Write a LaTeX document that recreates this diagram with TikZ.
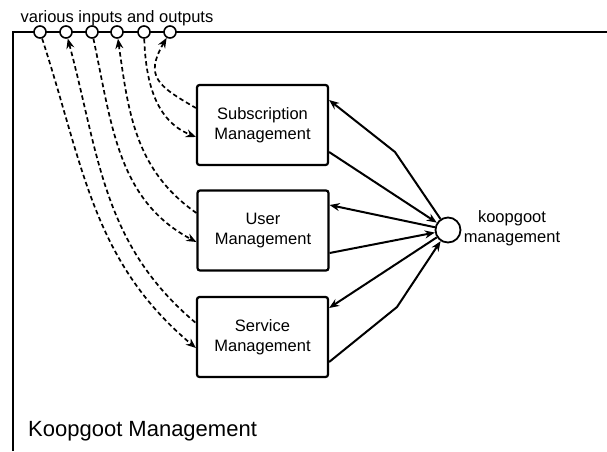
\documentclass[tikz,border=0pt]{standalone}
\usepackage{fontspec}
\setmainfont{Liberation Sans}
\usetikzlibrary{arrows.meta}
\begin{document}
\begin{tikzpicture}[x=1pt,y=-1pt,
  mgmt/.style={draw, line width=2.2pt, rounded corners=2.5pt, minimum width=131pt,
    minimum height=80pt, align=center, inner sep=0pt, font=\fontsize{16.5}{20}\selectfont},
  port/.style={circle, draw, fill=white, line width=1.6pt, minimum size=12pt, inner sep=0pt},
  hub/.style={circle, draw, fill=white, line width=1.8pt, minimum size=25pt, inner sep=0pt},
  lbl/.style={inner sep=0pt, font=\fontsize{16.5}{20}\selectfont, align=center},
  tip/.tip={Stealth[length=10pt,width=8pt]},
  io/.style={line width=1.7pt, dash pattern=on 4.5pt off 3pt},
  ctl/.style={line width=2pt},
]
\useasboundingbox (0,0) rectangle (607,451);

% outer frame: top rail and left edge
\draw[line width=2pt] (13,451) -- (13,32) -- (607,32);

% input/output ports on the rail
\foreach \i/\x in {1/40,2/66,3/92,4/117,5/144,6/170}
  \node[port] (p\i) at (\x,32) {};

\node[lbl, anchor=base] (title) at (117,22) {various inputs and outputs};

% management blocks
\node[mgmt] (sub) at (262.5,125) {Subscription\\Management};
\node[mgmt] (usr) at (263,230.5) {User\\Management};
\node[mgmt] (srv) at (262.5,337) {Service\\Management};

% central hub
\node[hub] (kg) at (448,230) {};
\node[lbl] (kglbl) at (512,228) {koopgoot\\management};

\node[inner sep=0pt, anchor=base west, font=\fontsize{22}{26}\selectfont] (frame) at (28,436) {Koopgoot Management};

% dashed links between ports and blocks
\draw[io, -tip] (p1) to[out=-72, in=140] ([yshift=-11pt]srv.west);
\draw[io, tip-] (p2) to[out=-75, in=140] ([yshift=14pt]srv.west);
\draw[io, -tip] (p3) to[out=-78, in=152] ([yshift=-11.5pt]usr.west);
\draw[io, tip-] (p4) to[out=-82, in=145] ([yshift=17.5pt]usr.west);
\draw[io, -tip] (p5) to[out=-88, in=158] ([yshift=-12pt]sub.west);
\draw[io, tip-] (p6) to[out=-120, in=150, looseness=1.5] ([yshift=17pt]sub.west);

% solid links between blocks and hub
\coordinate (bend1) at (395,152);
\coordinate (bend2) at (397,307);
\draw[ctl, -tip] (kg) -- (bend1) -- ([yshift=25pt]sub.east);
\draw[ctl, -tip] ([yshift=-27pt]sub.east) -- (kg);
\draw[ctl, -tip] (kg) -- ([yshift=25.5pt]usr.east);
\draw[ctl, -tip] ([yshift=-22.5pt]usr.east) -- (kg);
\draw[ctl, -tip] (kg) -- ([yshift=29pt]srv.east);
\draw[ctl, -tip] ([yshift=-25pt]srv.east) -- (bend2) -- (kg);
\end{tikzpicture}
\end{document}
